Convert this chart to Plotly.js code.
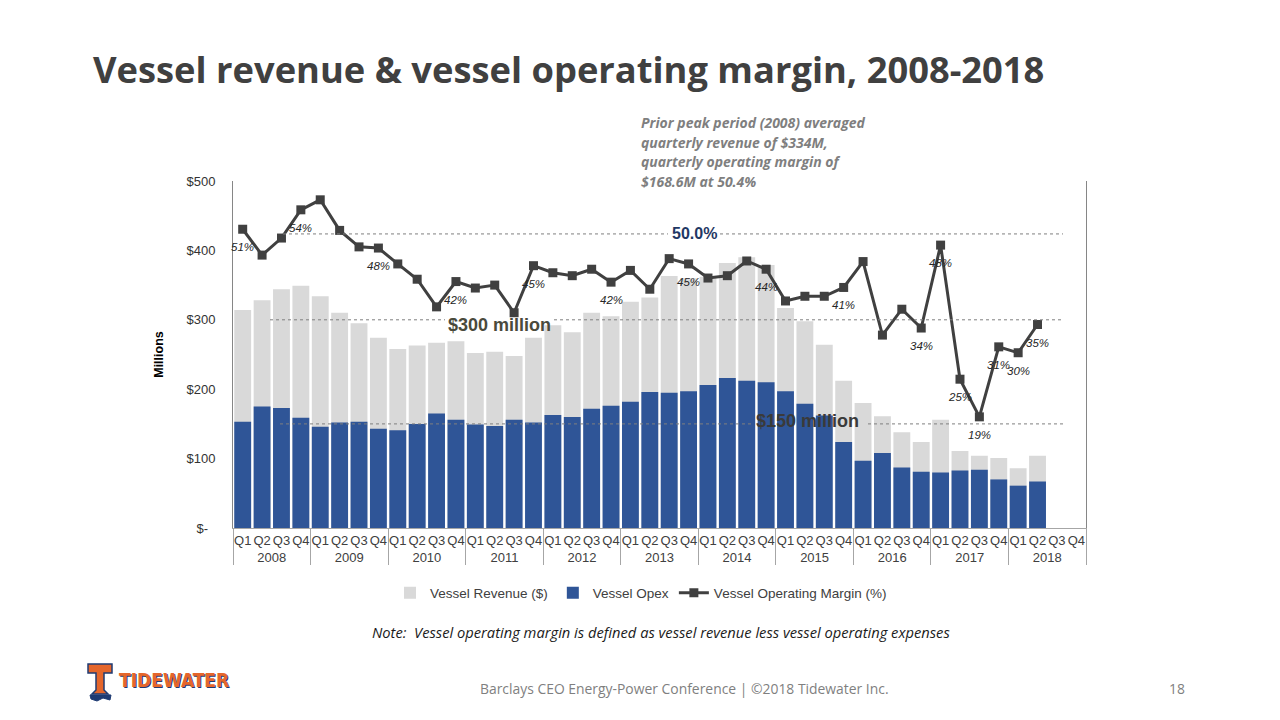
<!DOCTYPE html>
<html><head><meta charset="utf-8">
<script src="https://cdn.plot.ly/plotly-3.0.1.min.js"></script>
<style>html,body{margin:0;padding:0;background:#fff;}#chart{width:1280px;height:720px;}</style>
</head><body><div id="chart"></div>
<script>
// ---- data ----
const years = ['2008','2009','2010','2011','2012','2013','2014','2015','2016','2017','2018'];
const quarters = ['Q1','Q2','Q3','Q4'];
const revenue = [314,328,344,349, 334,310,295,274, 258,263,267,269, 252,254,248,274,
                 292,282,310,305, 326,332,363,360, 362,382,390,379, 317,298,264,212,
                 180,161,138,124, 156,111,104,101, 86,104,null,null];
const opex = [153,175,173,159, 146,152,153,143, 141,150,165,156, 149,147,156,152,
              163,160,172,176, 182,196,195,197, 206,216,212,210, 197,179,162,124,
              97,108,87,81, 80,83,84,70, 61,67,null,null];
const margin = [50.8,46.4,49.3,54.1, 55.8,50.6,47.8,47.6, 44.9,42.3,37.6,41.9,
                40.8,41.3,36.6,44.6, 43.4,42.9,44.0,41.8, 43.8,40.6,45.8,44.9,
                42.5,42.9,45.4,44.0, 38.6,39.4,39.4,40.9, 45.3,32.8,37.2,34.0,
                48.1,25.3,18.9,30.8, 29.8,34.6,null,null];
const marginLabels = ['51%','','','54%', '','','','48%', '','','','42%', '','','','45%',
                      '','','','42%', '','','','45%', '','','','44%', '','','','41%',
                      '','','','34%', '48%','25%','19%','31%', '30%','35%','',''];
const yTickVals = [0,100,200,300,400,500];
const yTickText = ['$-\u00a0\u00a0','$100','$200','$300','$400','$500'];
const refDollarLevels = [300, 150];
const refDollarLabels = ['$300 million', '$150 million'];
const refMarginLevel = 50;
const refMarginLabel = '50.0%';
const seriesNames = ['Vessel Revenue ($)', 'Vessel Opex', 'Vessel Operating Margin (%)'];
const titleText = 'Vessel revenue & vessel operating margin, 2008-2018';
const noteLines = ['Prior peak period (2008) averaged','quarterly revenue of $334M,','quarterly operating margin of','$168.6M at 50.4%'];
const footnote = 'Note:\u00a0\u00a0Vessel operating margin is defined as vessel revenue less vessel operating expenses';
const footer = 'Barclays CEO Energy-Power Conference | \u00a92018 Tidewater Inc.';
const pageNum = '18';

// ---- build categories ----
const outer = [], inner = [];
years.forEach(y => quarters.forEach(q => { outer.push(y); inner.push(q); }));
const X = [outer, inner];

// ---- geometry helpers (pixel -> paper) ----
const L = 233, R = 1086, T = 181, B = 528;
const px = v => (v - L) / (R - L);
const py = v => (B - v) / (B - T);

const AR = 'Liberation Sans, Arial, sans-serif';
const OS = 'Open Sans, sans-serif';

const traces = [
  {type:'bar', name:seriesNames[0], x:X, y:revenue, marker:{color:'#D9D9D9'}, hoverinfo:'y'},
  {type:'bar', name:seriesNames[1], x:X, y:opex, marker:{color:'#2F5597'}, hoverinfo:'y'},
  {type:'scatter', mode:'lines+markers', name:seriesNames[2], x:X, y:margin, yaxis:'y2',
   line:{color:'#404040', width:3}, marker:{symbol:'square', size:9, color:'#404040'},
   connectgaps:false}
];

const shapes = [];
const annotations = [];
const dot = {color:'#7f7f7f', width:1, dash:'dot'};
// reference lines broken around their labels
const seg = (x0, x1, y, yref) => shapes.push({type:'line', xref:'paper', yref:yref, x0:px(x0), x1:px(x1), y0:y, y1:y, line:dot, layer:'above'});
seg(283, 668, refMarginLevel, 'y2'); seg(720, 1063, refMarginLevel, 'y2');
seg(270, 445, refDollarLevels[0], 'y'); seg(554, 1063, refDollarLevels[0], 'y');
seg(280, 751, refDollarLevels[1], 'y'); seg(868, 1063, refDollarLevels[1], 'y');

annotations.push({xref:'paper', yref:'y2', x:px(694), y:refMarginLevel, text:refMarginLabel, showarrow:false,
  font:{family:AR, size:16, color:'#1F3864', weight:'bold'}, xanchor:'center', yanchor:'middle'});
annotations.push({xref:'paper', yref:'y', x:px(499), y:refDollarLevels[0], yshift:-5, text:refDollarLabels[0], showarrow:false,
  font:{family:AR, size:18, color:'#4A4A3C', weight:'bold'}, xanchor:'center', yanchor:'middle'});
annotations.push({xref:'paper', yref:'y', x:px(807), y:refDollarLevels[1], yshift:3, text:refDollarLabels[1], showarrow:false,
  font:{family:AR, size:18, color:'#3A3A3A', weight:'bold'}, xanchor:'center', yanchor:'middle'});

// margin point labels
marginLabels.forEach((t, i) => {
  if (!t) return;
  annotations.push({xref:'x', yref:'y2', x:i, y:margin[i], yshift:-18, text:t, showarrow:false,
    font:{family:AR, size:11.5, color:'#262626', style:'italic'}, xanchor:'center', yanchor:'middle'});
});

// peak note
noteLines.forEach((t, i) => {
  annotations.push({xref:'paper', yref:'paper', x:px(639), y:py(123 + i*19.5), text:t, showarrow:false,
    xanchor:'left', yanchor:'middle', font:{family:OS, size:14, color:'#7F7F7F', weight:'bold', style:'italic'}});
});

// footnote, footer, page number
annotations.push({xref:'paper', yref:'paper', x:px(661), y:py(632), text:footnote, showarrow:false,
  xanchor:'center', yanchor:'middle', font:{family:OS, size:14.7, color:'#1a1a1a', style:'italic'}});
annotations.push({xref:'paper', yref:'paper', x:px(684), y:py(688), text:footer, showarrow:false,
  xanchor:'center', yanchor:'middle', font:{family:OS, size:13.9, color:'#7F7F7F'}});
annotations.push({xref:'paper', yref:'paper', x:px(1177), y:py(688), text:pageNum, showarrow:false,
  xanchor:'center', yanchor:'middle', font:{family:OS, size:13.9, color:'#7F7F7F'}});

// logo
const P = (pts) => 'M' + pts.map(p => px(p[0]) + ',' + py(p[1])).join(' L') + ' Z';
shapes.push({type:'path', xref:'paper', yref:'paper', layer:'above',
  path:P([[88,664],[112,664],[112,673],[104,673],[104,690],[108,694],[92,694],[96,690],[96,673],[88,673]]),
  fillcolor:'#E5662B', line:{color:'#1F3B73', width:1.5}});
shapes.push({type:'path', xref:'paper', yref:'paper', layer:'above',
  path:P([[90,695],[111,695],[110,700],[103,698],[97,701],[91,699]]),
  fillcolor:'#1F3B73', line:{color:'#1F3B73', width:1}});
annotations.push({xref:'paper', yref:'paper', x:px(117), y:py(680), xshift:1, yshift:-1, text:'TIDEWATER', showarrow:false,
  xanchor:'left', yanchor:'middle',
  font:{family:'Liberation Sans Narrow, DejaVu Sans Condensed, Roboto Condensed, Liberation Sans, sans-serif', size:19, color:'#1F3B73', weight:'bold'}});
annotations.push({xref:'paper', yref:'paper', x:px(117), y:py(680), text:'TIDEWATER', showarrow:false,
  xanchor:'left', yanchor:'middle',
  font:{family:'Liberation Sans Narrow, DejaVu Sans Condensed, Roboto Condensed, Liberation Sans, sans-serif', size:19, color:'#E5662B', weight:'bold'}});

const layout = {
  width:1280, height:720,
  margin:{l:L, r:1280-R, t:T, b:720-B, pad:0},
  paper_bgcolor:'#fff', plot_bgcolor:'#fff',
  font:{family:AR, size:13, color:'#404040'},
  title:{text:titleText, xref:'container', yref:'container', x:93/1280, xanchor:'left', y:1-70/720, yanchor:'middle',
    font:{family:OS, size:36.3, color:'#404040', weight:'bold'}},
  barmode:'overlay', bargap:0.13,
  showlegend:true,
  legend:{orientation:'h', xref:'container', yref:'container', x:641/1280, xanchor:'center', y:1-593/720, yanchor:'middle',
    font:{family:AR, size:13.5, color:'#404040'}, traceorder:'normal'},
  xaxis:{type:'multicategory', range:[-0.5, 43.5], autorange:false, showline:true, linecolor:'#A6A6A6', linewidth:1,
    ticks:'', showgrid:false, tickangle:0,
    showdividers:true, dividercolor:'#A6A6A6', dividerwidth:1, tickfont:{family:AR, size:13, color:'#404040'}},
  yaxis:{range:[0,500], tickvals:yTickVals, ticktext:yTickText, showgrid:false, zeroline:false,
    showline:true, linecolor:'#868686', linewidth:1, ticks:'', ticklabelstandoff:14,
    tickfont:{family:AR, size:13, color:'#333'},
    title:{text:'Millions', font:{family:AR, size:12.5, color:'#000', weight:'bold'}, standoff:20}},
  yaxis2:{overlaying:'y', side:'right', range:[0,59], showgrid:false, zeroline:false, showline:true,
    linecolor:'#868686', linewidth:1, showticklabels:false, ticks:''},
  shapes:shapes, annotations:annotations
};

Plotly.newPlot('chart', traces, layout, {displayModeBar:false, staticPlot:true});
</script></body></html>
